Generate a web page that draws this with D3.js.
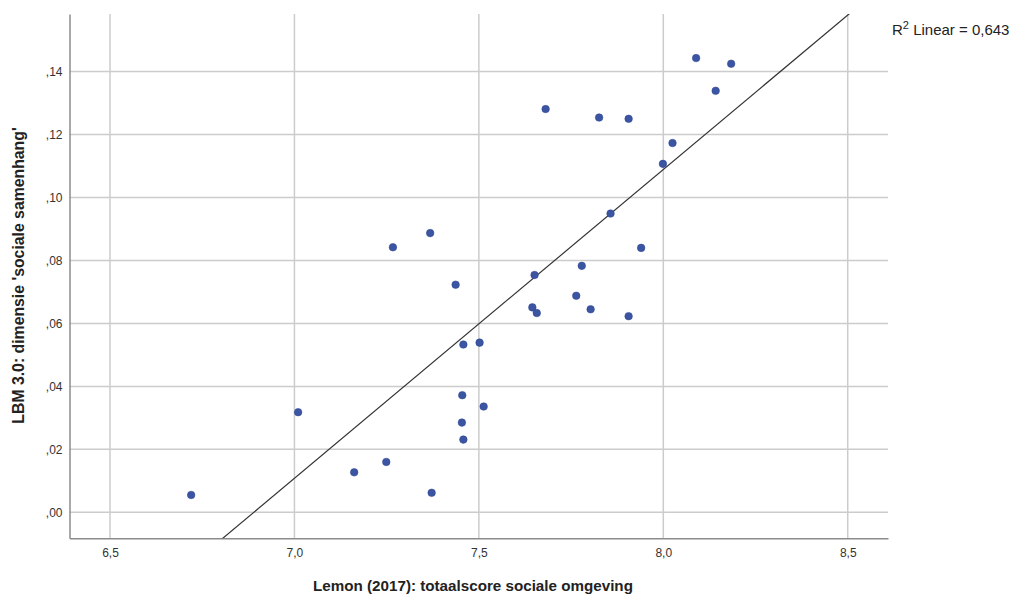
<!DOCTYPE html>
<html><head><meta charset="utf-8">
<script src="https://cdn.jsdelivr.net/npm/d3@7"></script>
<style>body{margin:0;background:#fff}svg{display:block}</style>
</head><body>
<svg id="chart" width="1016" height="597"></svg>
<script>
const lemonScore = [6.720,7.010,7.162,7.249,7.372,7.458,7.454,7.455,7.513,7.458,7.502,7.645,7.657,7.764,7.803,7.906,7.437,7.267,7.368,7.651,7.779,7.857,7.940,7.681,7.826,7.906,7.999,8.025,8.089,8.142,8.184];
const lbmCohesion = [0.0055,0.0318,0.0127,0.0160,0.0062,0.0231,0.0285,0.0372,0.0336,0.0533,0.0539,0.0651,0.0633,0.0688,0.0645,0.0623,0.0723,0.0842,0.0887,0.0754,0.0783,0.0949,0.0840,0.1281,0.1254,0.1250,0.1107,0.1173,0.1443,0.1339,0.1425];
const xTicks = [6.5,7.0,7.5,8.0,8.5];
const yTicks = [0.00,0.02,0.04,0.06,0.08,0.10,0.12,0.14];
const fitSlope = 0.0981, fitIntercept = -0.6759;
const rSquaredLabel = "0,643";

const svg = d3.select("#chart");
const L = 69.5, R = 888, T = 14, B = 538.3;
const x = d3.scaleLinear().domain([6.3902, 8.6092]).range([L, R]);
const y = d3.scaleLinear().domain([-0.00826, 0.1583]).range([B, T]);

const fmtX = d => d.toFixed(1).replace(".", ",");
const fmtY = d => d.toFixed(2).replace(/^0\./, ",");
const FONT = "Liberation Sans, Arial, sans-serif";

// grid
const g = svg.append("g");
g.selectAll(".vg").data(xTicks).join("line")
  .attr("x1", d => x(d)).attr("x2", d => x(d)).attr("y1", T).attr("y2", B)
  .attr("stroke", "#cccccc").attr("stroke-width", 1.5);
g.selectAll(".hg").data(yTicks).join("line")
  .attr("x1", L).attr("x2", R).attr("y1", d => y(d)).attr("y2", d => y(d))
  .attr("stroke", "#cccccc").attr("stroke-width", 1.5);

// axes
const xAxis = svg.append("g").attr("transform", `translate(0,${B})`)
  .call(d3.axisBottom(x).tickValues(xTicks).tickFormat(fmtX).tickSize(0).tickPadding(10));
xAxis.select(".domain").attr("stroke", "#8c8c8c").attr("stroke-width", 1.5);
const yAxis = svg.append("g").attr("transform", `translate(${L},0)`)
  .call(d3.axisLeft(y).tickValues(yTicks).tickFormat(fmtY).tickSize(0).tickPadding(7));
yAxis.select(".domain").attr("stroke", "#8c8c8c").attr("stroke-width", 1.5);
svg.selectAll(".tick text").attr("font-family", FONT)
  .attr("font-size", 12).attr("fill", "#333");

// fit line clipped to plot
svg.append("clipPath").attr("id", "clip").append("rect")
  .attr("x", L).attr("y", T).attr("width", R - L).attr("height", B - T);
const xd = x.domain();
svg.append("line").attr("clip-path", "url(#clip)")
  .attr("x1", x(xd[0])).attr("y1", y(fitSlope * xd[0] + fitIntercept))
  .attr("x2", x(xd[1])).attr("y2", y(fitSlope * xd[1] + fitIntercept))
  .attr("stroke", "#333").attr("stroke-width", 1.2);

// points
svg.selectAll(".pt").data(lemonScore.map((v, i) => [v, lbmCohesion[i]])).join("circle")
  .attr("cx", d => x(d[0])).attr("cy", d => y(d[1])).attr("r", 3.8)
  .attr("fill", "#3b55a3").attr("stroke", "#2c4490").attr("stroke-width", 0.5);

// titles
svg.append("text").attr("x", 473).attr("y", 591)
  .attr("text-anchor", "middle").attr("font-family", FONT)
  .attr("font-size", 15.2).attr("font-weight", "bold").attr("fill", "#222")
  .text("Lemon (2017): totaalscore sociale omgeving");
svg.append("text").attr("transform", "translate(24,275.5) rotate(-90)")
  .attr("text-anchor", "middle").attr("font-family", FONT)
  .attr("font-size", 15.8).attr("font-weight", "bold").attr("fill", "#222")
  .text("LBM 3.0: dimensie 'sociale samenhang'");

// R2 label
const rt = svg.append("text").attr("x", 892).attr("y", 35)
  .attr("font-family", FONT).attr("font-size", 15).attr("fill", "#222");
rt.append("tspan").text("R");
rt.append("tspan").attr("dy", -6).attr("font-size", 11).text("2");
rt.append("tspan").attr("dy", 6).text(" Linear = " + rSquaredLabel);
</script>
</body></html>
